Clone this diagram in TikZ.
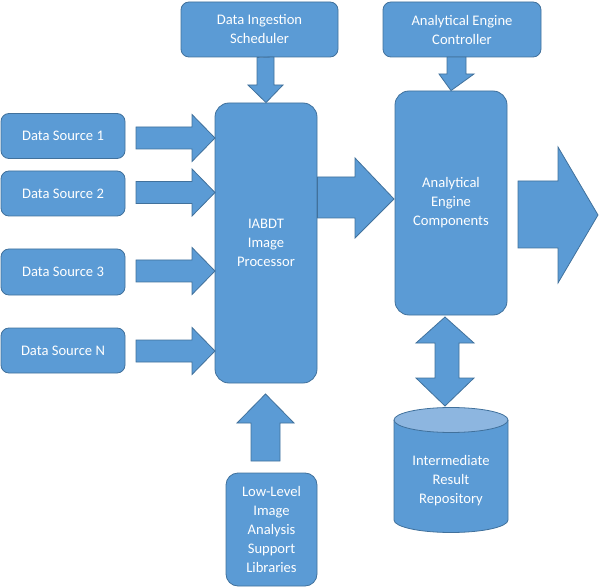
\documentclass[tikz,border=0pt]{standalone}
\usepackage{fontspec}
\setmainfont{Carlito}
\definecolor{boxfill}{HTML}{5B9BD5}
\definecolor{boxline}{HTML}{41719C}
\definecolor{cyltop}{HTML}{8DB6E0}
\begin{document}
\begin{tikzpicture}[x=1pt,y=-1pt,
  box/.style={draw=boxline,fill=boxfill,line width=0.8pt,rounded corners=8pt,
    text=white,align=center,inner sep=0pt,font=\fontsize{14.6}{19}\selectfont},
  bigbox/.style={box,rounded corners=14pt},
  blk/.style={draw=boxline,fill=boxfill,line width=0.8pt,line join=miter},
  lbl/.style={text=white,align=center,font=\fontsize{14.6}{19}\selectfont}]
\useasboundingbox (0,0) rectangle (600,588);
% boxes
\node[box,minimum width=124pt,minimum height=45pt] (ds1) at (63,136) {Data Source 1};
\node[box,minimum width=124pt,minimum height=45pt] (ds2) at (63,193.5) {Data Source 2};
\node[box,minimum width=124pt,minimum height=46pt] (ds3) at (63,272) {Data Source 3};
\node[box,minimum width=124pt,minimum height=45pt] (dsN) at (63,350.5) {Data Source N};
\node[box,minimum width=157pt,minimum height=55pt] (sched) at (259.5,29.5) {Data Ingestion\\Scheduler};
\node[box,minimum width=158pt,minimum height=55pt] (ctrl) at (462,29.5) {Analytical Engine\\Controller};
\node[bigbox,minimum width=102pt,minimum height=280pt] (iabdt) at (266,243) {IABDT\\Image\\Processor};
\node[bigbox,minimum width=112pt,minimum height=224pt] (aec) at (451,203) {Analytical\\Engine\\Components};
\node[box,rounded corners=12pt,minimum width=91pt,minimum height=113pt] (low) at (271.5,529.5) {Low-Level\\Image\\Analysis\\Support\\Libraries};
% cylinder
\fill[boxfill] (394,420) -- (394,520) arc[start angle=180,end angle=360,x radius=57,y radius=-12.5] -- (508,420) -- cycle;
\draw[boxline,line width=0.8pt] (394,420) -- (394,520) arc[start angle=180,end angle=360,x radius=57,y radius=-12.5] -- (508,420);
\draw[boxline,fill=cyltop,line width=0.8pt] (451,420) ellipse[x radius=57,y radius=12.5];
\node[lbl] (irr) at (451,481) {Intermediate\\Result\\Repository};
% right-pointing block arrows from sources
\foreach \yc in {138,192.5,271,351}{
  \draw[blk] (136,\yc-11) -- (192,\yc-11) -- (192,\yc-23.5) -- (215,\yc) -- (192,\yc+23.5) -- (192,\yc+11) -- (136,\yc+11) -- cycle;
}
% scheduler -> iabdt
\draw[blk] (sched.south -| 257,0) -- (274,57) -- (274,85) -- (283,85) -- (iabdt.north) -- (248,85) -- (257,85) -- cycle;
% controller -> aec
\draw[blk] (447,57) -- (466,57) -- (466,74) -- (474,74) -- (aec.north) -- (439,74) -- (447,74) -- cycle;
% iabdt -> aec
\draw[blk] (iabdt.east |- 0,177) -- (355,177) -- (355,158) -- (394,199) -- (355,238) -- (355,218) -- (iabdt.east |- 0,218) -- cycle;
% output arrow
\draw[blk] (518,181) -- (558,181) -- (558,147) -- (598,215) -- (558,283) -- (558,248) -- (518,248) -- cycle;
% double arrow aec <-> cylinder
\draw[blk] (445,317) -- (474,343) -- (459,343) -- (459,378) -- (474,378) -- (445,406) -- (416,378) -- (435,378) -- (435,343) -- (416,343) -- cycle;
% low -> iabdt
\draw[blk] (265.5,394) -- (294,423) -- (280,423) -- (280,461) -- (251,461) -- (251,423) -- (237,423) -- cycle;
\end{tikzpicture}
\end{document}
